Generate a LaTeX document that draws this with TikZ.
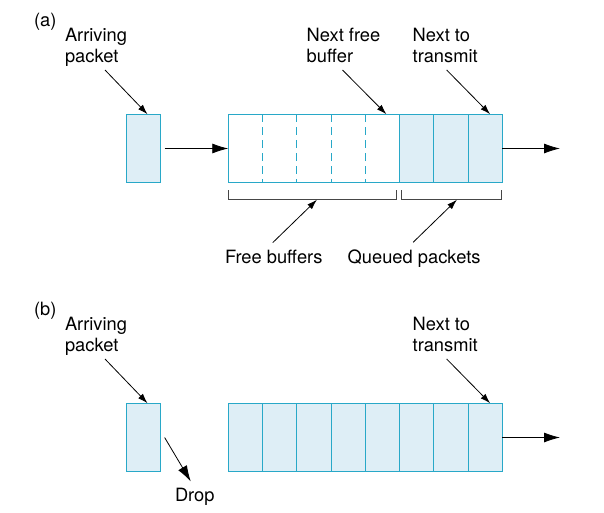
\documentclass[tikz,border=0pt]{standalone}
\usepackage{fontspec}
\setmainfont{TeX Gyre Heros}
\usetikzlibrary{arrows.meta,positioning}
\definecolor{qline}{RGB}{40,168,200}
\definecolor{qfill}{RGB}{222,238,246}
\definecolor{brk}{RGB}{70,70,70}

\begin{document}
\begin{tikzpicture}[x=1pt,y=-1pt,>={Latex[length=10pt,width=6.5pt]},
  line width=0.8pt,inner sep=0pt,outer sep=0pt,
  font=\fontsize{18.3}{20.7}\selectfont,
  cell/.style={minimum width=34.25pt,minimum height=68.5pt,line width=1pt},
  full/.style={cell,draw=qline,fill=qfill},
  free/.style={cell},
  divider/.style={qline,line width=1pt,dash pattern=on 8pt off 5pt},
  lbl/.style={align=left,anchor=base west},
  big/.style={-{Latex[length=16pt,width=10pt]}}]
	\useasboundingbox (0,0) rectangle (604,512);

	\node[lbl] (la) at (34,26) {(a)};
	\node[lbl] (arra) at (65,62.3) {Arriving\\packet};
	\node[lbl] (nfb) at (306.7,62.3) {Next free\\buffer};
	\node[lbl] (ntta) at (412.7,62.3) {Next to\\transmit};

	\node[full] (pa) at (143.5,148.5) {};
	\node[free] (f1) at (245.4,148.5) {};
	\node[free] (f2) [right=0pt of f1] {};
	\node[free] (f3) [right=0pt of f2] {};
	\node[free] (f4) [right=0pt of f3] {};
	\node[free] (f5) [right=0pt of f4] {};
	\node[full] (q1) [right=0pt of f5] {};
	\node[full] (q2) [right=0pt of q1] {};
	\node[full] (q3) [right=0pt of q2] {};
	\draw[qline,line width=1pt] (f1.north west) rectangle (f5.south east);
	\draw[divider] (f1.north east) -- (f1.south east);
	\draw[divider] (f2.north east) -- (f2.south east);
	\draw[divider] (f3.north east) -- (f3.south east);
	\draw[divider] (f4.north east) -- (f4.south east);

	\draw[->] ([xshift=9pt,yshift=-7.7pt]arra.base) -- ([xshift=4pt]pa.north);
	\draw[->] ([xshift=-1pt,yshift=-7.7pt]nfb.base) -- ([xshift=4pt]f5.north);
	\draw[->] ([xshift=1.5pt,yshift=-7.7pt]ntta.base) -- ([xshift=5pt]q3.north);
	\draw[big] ([xshift=4pt]pa.east) -- (f1.west);
	\coordinate (outa) at (560,148.5);
	\draw[big] (q3.east) -- (outa);

	\draw[brk] ([yshift=-7.5pt]f1.south west) -- ++(0,9) -| ([xshift=-3pt,yshift=-7.5pt]f5.south east);
	\draw[brk] ([xshift=2pt,yshift=-7.5pt]q1.south west) -- ++(0,9) -| ([xshift=-0.5pt,yshift=-7.5pt]q3.south east);
	\node[lbl] (fbuf) at (225,263) {Free buffers};
	\node[lbl] (qpk) at (347.7,263) {Queued packets};
	\coordinate (fbrk) at ([xshift=3pt,yshift=-17pt]f3.south);
	\coordinate (qbrk) at ([xshift=6pt,yshift=-17pt]q2.south);
	\draw[->] ([xshift=-1pt,yshift=7pt]fbuf.north) -- (fbrk);
	\draw[->] ([xshift=-1pt,yshift=7pt]qpk.north) -- (qbrk);

	\node[lbl] (lb) at (34,315) {(b)};
	\node[lbl] (arrb) at (65,351.3) {Arriving\\packet};
	\node[lbl] (nttb) at (412.7,351.3) {Next to\\transmit};
	\node[lbl] (drop) at (175,501.5) {Drop};

	\node[full] (pb) at (143.5,437.5) {};
	\node[full] (b1) at (245.4,437.5) {};
	\node[full] (b2) [right=0pt of b1] {};
	\node[full] (b3) [right=0pt of b2] {};
	\node[full] (b4) [right=0pt of b3] {};
	\node[full] (b5) [right=0pt of b4] {};
	\node[full] (b6) [right=0pt of b5] {};
	\node[full] (b7) [right=0pt of b6] {};
	\node[full] (b8) [right=0pt of b7] {};

	\draw[->] ([xshift=9pt,yshift=-7.7pt]arrb.base) -- ([xshift=4pt]pb.north);
	\draw[->] ([xshift=1.5pt,yshift=-7.7pt]nttb.base) -- ([xshift=5pt]b8.north);
	\draw[big] ([xshift=4pt]pb.east) -- ([xshift=-4pt,yshift=6.7pt]drop.north);
	\coordinate (outb) at (560,437.5);
	\draw[big] (b8.east) -- (outb);

\end{tikzpicture}
\end{document}
